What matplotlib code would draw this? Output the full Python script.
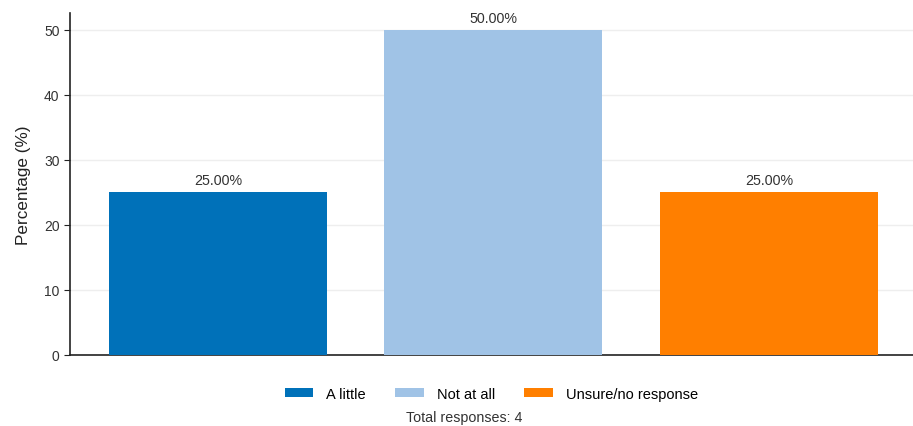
import matplotlib.pyplot as plt
import numpy as np

plt.rcParams['font.family'] = ['Liberation Sans', 'DejaVu Sans']

categories = ['A little', 'Not at all', 'Unsure/no response']
percentages = [25.0, 50.0, 25.0]
colors = ['#0071B9', '#A0C3E6', '#FF7F00']
total_responses = 4

fig = plt.figure(figsize=(9.13, 4.27), dpi=100)
ax = fig.add_axes([0.0767, 0.1663, 0.923, 0.8007])

x = np.arange(len(categories))
bars = ax.bar(x, percentages, width=0.791, color=colors, label=categories, zorder=3)
for xi, v in zip(x, percentages):
    ax.text(xi, v + 0.8, '%.2f%%' % v, ha='center', va='bottom', fontsize=10.3, color='#333333')

ax.set_xlim(-0.537, 2.522)
ax.set_ylim(0, 52.6)
ax.set_yticks([0, 10, 20, 30, 40, 50])
ax.set_xticks([])
ax.grid(axis='y', color='#eeeeee', linewidth=1, zorder=0)
for s in ['top', 'right']:
    ax.spines[s].set_visible(False)
for s in ['left', 'bottom']:
    ax.spines[s].set_color('#222222')
    ax.spines[s].set_linewidth(1.2)
ax.tick_params(axis='y', labelsize=10, colors='#222222', length=4, labelcolor='#333333')
ax.set_ylabel('Percentage (%)', fontsize=12.3, color='#222222', labelpad=9)

leg = ax.legend(loc='upper center', bbox_to_anchor=(0.5, -0.055), ncol=3, frameon=False,
                fontsize=10.5, handlelength=1.95, handleheight=0.55, columnspacing=2.0,
                handletextpad=0.9)
fig.text(0.508, 0.022, 'Total responses: %d' % total_responses, ha='center', va='center',
         fontsize=10.3, color='#333333')

plt.savefig('out.png', dpi=100)
